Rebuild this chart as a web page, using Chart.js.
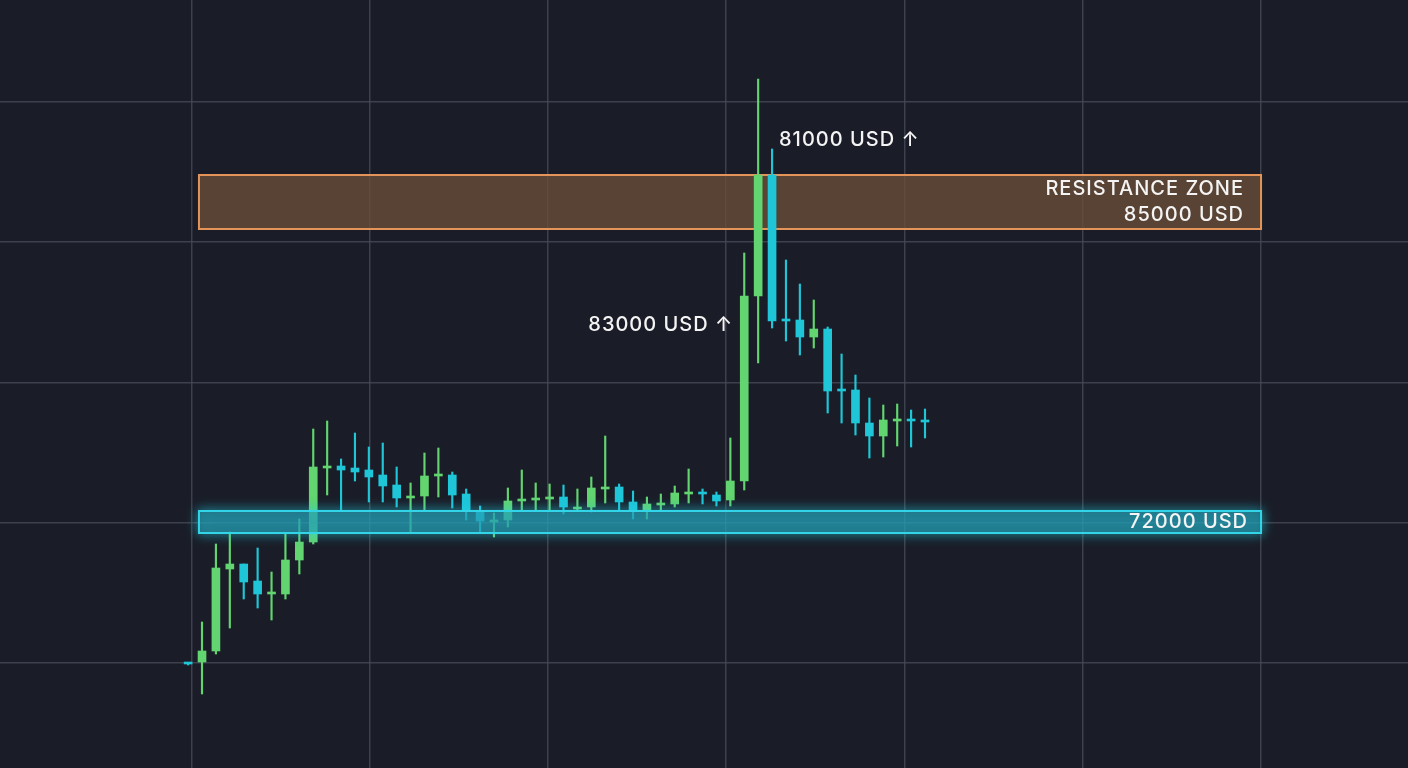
<!DOCTYPE html>
<html>
<head>
<meta charset="utf-8">
<script src="https://cdn.jsdelivr.net/npm/chart.js@4"></script>
<style>
  html, body { margin: 0; padding: 0; background: #1a1d27; }
  #wrap { width: 1408px; height: 768px; }
</style>
</head>
<body>
<div id="wrap"><canvas id="price-chart"></canvas></div>
<script>
// candle data (USD), one entry per session
const sessions = Array.from({ length: 54 }, (_, i) => i);
const opens = [66400, 66440, 66880, 70160, 70360, 69680, 69160, 69160, 70520, 71240,
  74200, 74280, 74200, 74120, 73920, 73520, 73000, 73080, 73880, 73920,
  73160, 72440, 72040, 72120, 72880, 72920, 72960, 73040, 72560, 72640,
  73360, 73440, 72840, 72520, 72720, 72760, 73160, 73240, 73120, 72920,
  73680, 81080, 85920, 80160, 80120, 79440, 79760, 77360, 77320, 76000,
  75480, 76080, 76160, 76120];
const highs = [66400, 68040, 71160, 71640, 70360, 71000, 70040, 71600, 72160, 75760,
  76080, 74560, 75600, 75040, 75200, 74240, 73600, 74800, 75000, 74040,
  73360, 72680, 72400, 73400, 74120, 73600, 73560, 73520, 73360, 73840,
  75480, 73560, 73280, 73040, 73160, 73480, 74160, 73360, 73240, 75400,
  82800, 89760, 86960, 82520, 81560, 80920, 79840, 78760, 77920, 77000,
  76720, 76760, 76520, 76560];
const lows = [66320, 65160, 66760, 67800, 68960, 68600, 68120, 68960, 69960, 71160,
  73120, 72520, 73680, 72840, 72840, 72640, 71600, 72520, 73040, 72600,
  72120, 71640, 71440, 71840, 72520, 72520, 72520, 72360, 72520, 72440,
  72800, 72480, 72160, 72160, 72480, 72640, 72800, 72760, 72680, 72680,
  73320, 78400, 79800, 79280, 78720, 79000, 76400, 76000, 75520, 74600,
  74640, 75080, 75040, 75400];
const closes = [66360, 66880, 70200, 70360, 69640, 69160, 69240, 70520, 71240, 74240,
  74280, 74120, 74040, 73840, 73480, 73000, 73080, 73880, 73960, 73120,
  72480, 72080, 72120, 72880, 72960, 73000, 73040, 72640, 72640, 73400,
  73440, 72840, 72480, 72760, 72800, 73200, 73240, 73160, 72880, 73680,
  81080, 85920, 80080, 80080, 79440, 79760, 77280, 77280, 76000, 75480,
  76120, 76160, 76080, 76040];

// zones and callouts
const resistanceZone = [83760, 85920];
const supportZone = [71600, 72480];
const gridPrices = [66400, 72000, 77600, 83240, 88840];
const gridSessions = [0.28, 13.1, 25.9, 38.7, 51.53, 64.35, 77.17];

const GREEN = 'rgb(98, 212, 112)';
const CYAN = 'rgb(30, 198, 216)';
const colors = opens.map((o, i) => closes[i] >= o ? GREEN : CYAN);

const zones = {
  id: 'zones',
  beforeDatasetsDraw(chart) {
    const { ctx, scales: { x, y } } = chart;
    const x0 = x.getPixelForValue(0.78), x1 = x.getPixelForValue(77.17);
    const top = y.getPixelForValue(resistanceZone[1]), bot = y.getPixelForValue(resistanceZone[0]);
    ctx.save();
    ctx.fillStyle = 'rgba(108, 78, 56, 0.78)';
    ctx.fillRect(x0, top, x1 - x0, bot - top);
    ctx.strokeStyle = 'rgb(228, 148, 88)';
    ctx.lineWidth = 2;
    ctx.strokeRect(x0, top, x1 - x0, bot - top);
    ctx.restore();
  },
  afterDatasetsDraw(chart) {
    const { ctx, scales: { x, y } } = chart;
    const x0 = x.getPixelForValue(0.78), x1 = x.getPixelForValue(77.17);
    const top = y.getPixelForValue(supportZone[1]), bot = y.getPixelForValue(supportZone[0]);
    ctx.save();
    ctx.shadowColor = 'rgba(40, 210, 235, 0.9)';
    ctx.shadowBlur = 12;
    ctx.fillStyle = 'rgba(35, 135, 155, 0.55)';
    ctx.fillRect(x0, top, x1 - x0, bot - top);
    ctx.strokeStyle = 'rgb(50, 212, 232)';
    ctx.lineWidth = 2;
    ctx.strokeRect(x0, top, x1 - x0, bot - top);
    ctx.restore();

    // labels
    ctx.save();
    ctx.fillStyle = '#f4f4f4';
    ctx.font = '500 20px Inter';
    ctx.letterSpacing = '1px';
    ctx.textBaseline = 'middle';
    ctx.textAlign = 'right';
    ctx.fillText('RESISTANCE ZONE', x1 - 17, y.getPixelForValue(85360));
    ctx.fillText('85000 USD', x1 - 17, y.getPixelForValue(84320));
    ctx.fillText('72000 USD', x1 - 13, y.getPixelForValue(72040));
    ctx.textAlign = 'left';
    ctx.fillText('81000 USD ↑', x.getPixelForValue(42.5), y.getPixelForValue(87320));
    ctx.textAlign = 'right';
    ctx.fillText('83000 USD ↑', x.getPixelForValue(39.2), y.getPixelForValue(79920));
    ctx.restore();
  }
};

const ctx = document.getElementById('price-chart');

new Chart(ctx, {
  type: 'bar',
  data: {
    datasets: [{
      label: 'body',
      data: sessions.map(i => ({ x: i, y: [opens[i], closes[i]] })),
      backgroundColor: colors,
      barThickness: 8,
      minBarLength: 2,
      order: 1
    }, {
      label: 'wick',
      data: sessions.map(i => ({ x: i, y: [lows[i], highs[i]] })),
      backgroundColor: colors,
      barThickness: 1.5,
      order: 2
    }]
  },
  options: {
    responsive: true,
    maintainAspectRatio: false,
    animation: false,
    layout: { padding: 0 },
    datasets: { bar: { grouped: false } },
    plugins: { legend: { display: false }, tooltip: { enabled: false } },
    scales: {
      x: {
        type: 'linear',
        min: -13.53,
        max: 87.74,
        offset: false,
        afterBuildTicks: s => { s.ticks = gridSessions.map(v => ({ value: v })); },
        grid: { color: 'rgba(70, 74, 88, 0.8)', lineWidth: 1.5, drawTicks: false, offset: false },
        border: { display: false },
        ticks: { display: false }
      },
      y: {
        min: 62200,
        max: 92920,
        afterBuildTicks: s => { s.ticks = gridPrices.map(v => ({ value: v })); },
        grid: { color: 'rgba(70, 74, 88, 0.8)', lineWidth: 1.5, drawTicks: false },
        border: { display: false },
        ticks: { display: false }
      }
    }
  },
  plugins: [zones]
});
</script>
</body>
</html>
